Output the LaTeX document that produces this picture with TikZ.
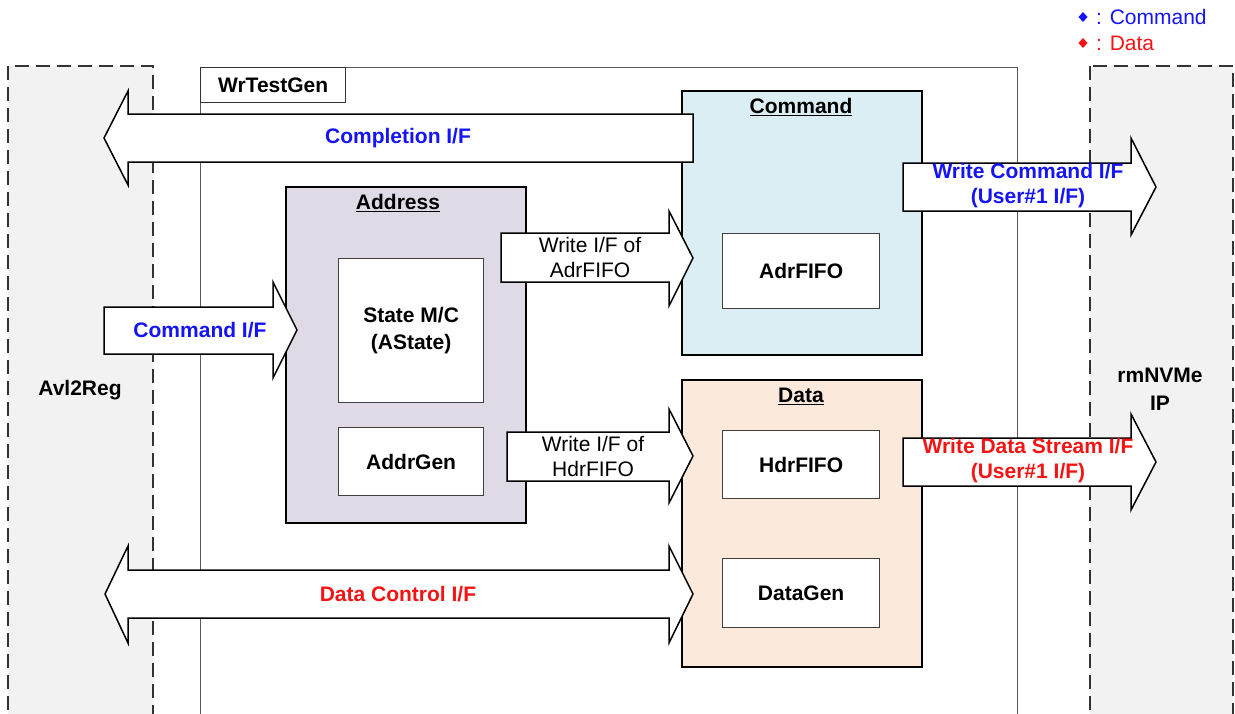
\documentclass[tikz,border=0pt]{standalone}
\usepackage{fontspec}
\setmainfont{Liberation Sans}
\definecolor{extfill}{HTML}{F2F2F2}
\definecolor{cmdfill}{HTML}{DAEEF3}
\definecolor{adrfill}{HTML}{E0DAE7}
\definecolor{datfill}{HTML}{FBE9DC}
\definecolor{txtblue}{HTML}{1414F5}
\definecolor{txtred}{HTML}{F51414}
\begin{document}
\begin{tikzpicture}[x=1pt,y=-1pt,
  font=\fontsize{21}{25}\selectfont,
  extbox/.style={draw=black!80, fill=extfill, line width=2pt, dash pattern=on 14pt off 7pt},
  topbox/.style={draw=black!65, line width=1pt},
  grpbox/.style={draw=black, line width=1.8pt, anchor=north west, inner sep=0pt},
  inbox/.style={draw=black!75, fill=white, line width=1.3pt, anchor=north west, inner sep=0pt, font=\fontsize{21}{27}\selectfont\bfseries, align=center},
  blockarrow/.style={draw=black, fill=white, line width=1.5pt, line join=miter},
  lbl/.style={inner sep=0pt, align=center},
  title/.style={inner sep=0pt, font=\fontsize{21}{25}\selectfont\bfseries}
]
\useasboundingbox (0,0) rectangle (1235,713);
\clip (0,0) rectangle (1235,713);

% external dashed boxes
\draw[extbox] (8,66) rectangle (153,740);
\draw[extbox] (1090,66) rectangle (1233,740);
\node[lbl, font=\fontsize{21}{25}\selectfont\bfseries] (avl) at (80,390) {Avl2Reg};
\node[lbl, font=\fontsize{21}{28}\selectfont\bfseries] (nvme) at (1160,389) {rmNVMe\\IP};

% WrTestGen outer box
\draw[topbox] (200,67) rectangle (1017,740);
\node[draw=black!80, line width=1.3pt, anchor=north west, minimum width=145pt, minimum height=35pt, inner sep=0pt, font=\fontsize{21}{25}\selectfont\bfseries] (wtg) at (200,67) {WrTestGen};

% legend
\fill[txtblue] (1083,12) -- (1087.5,17) -- (1083,22) -- (1078.5,17) -- cycle;
\node[anchor=west, inner sep=0pt, text=txtblue] (legc) at (1096,17) {: Command};
\fill[txtred] (1083,38) -- (1087.5,43) -- (1083,48) -- (1078.5,43) -- cycle;
\node[anchor=west, inner sep=0pt, text=txtred] (legd) at (1096,43) {: Data};

% group boxes
\node[grpbox, fill=cmdfill, minimum width=240pt, minimum height=264pt] (cmd) at (681,90) {};
\node[title] (cmdt) at (801,107) {\underline{Command}};
\node[grpbox, fill=adrfill, minimum width=240pt, minimum height=336pt] (adr) at (285,186) {};
\node[title] (adrt) at (398,203) {\underline{Address}};
\node[grpbox, fill=datfill, minimum width=240pt, minimum height=287pt] (dat) at (681,379) {};
\node[title] (datt) at (801,396) {\underline{Data}};

% inner boxes
\node[inbox, minimum width=157pt, minimum height=75pt] (adrfifo) at (722,233) {AdrFIFO};
\node[inbox, minimum width=145pt, minimum height=144pt] (statemc) at (338,258) {State M/C\\(AState)};
\node[inbox, minimum width=145pt, minimum height=68pt] (addrgen) at (338,427) {AddrGen};
\node[inbox, minimum width=157pt, minimum height=68pt] (hdrfifo) at (722,430) {HdrFIFO};
\node[inbox, minimum width=157pt, minimum height=69pt] (datagen) at (722,558) {DataGen};

% block arrows
\draw[blockarrow] (693,114) -- (128,114) -- (128,91) -- (104,138) -- (128,185) -- (128,162) -- (693,162) -- cycle;
\node[lbl, font=\fontsize{21}{25}\selectfont\bfseries, text=txtblue] (compl) at (398,138) {Completion I/F};

\draw[blockarrow] (104,307) -- (273,307) -- (273,282) -- (297,330) -- (273,378) -- (273,354) -- (104,354) -- cycle;
\node[lbl, font=\fontsize{21}{25}\selectfont\bfseries, text=txtblue] (cmdif) at (200,330) {Command I/F};

\draw[blockarrow] (501,233) -- (669,233) -- (669,211) -- (693,258) -- (669,306) -- (669,282) -- (501,282) -- cycle;
\node[lbl, font=\fontsize{21}{25}\selectfont] (wadr) at (590,257) {Write I/F of\\AdrFIFO};

\draw[blockarrow] (507,432) -- (669,432) -- (669,409) -- (693,456) -- (669,503) -- (669,481) -- (507,481) -- cycle;
\node[lbl, font=\fontsize{21}{25}\selectfont] (whdr) at (593,456) {Write I/F of\\HdrFIFO};

\draw[blockarrow] (903,163) -- (1131,163) -- (1131,138) -- (1156,187) -- (1131,235) -- (1131,211) -- (903,211) -- cycle;
\node[lbl, font=\fontsize{21}{25}\selectfont\bfseries, text=txtblue] (wcmd) at (1028,186) {Write Command I/F\\(User\#1 I/F)};

\draw[blockarrow] (903,438) -- (1131,438) -- (1131,414) -- (1156,462) -- (1131,510) -- (1131,486) -- (903,486) -- cycle;
\node[lbl, font=\fontsize{21}{25}\selectfont\bfseries, text=txtred] (wdat) at (1028,461) {Write Data Stream I/F\\(User\#1 I/F)};

\draw[blockarrow] (105,594) -- (128,546) -- (128,570) -- (669,570) -- (669,546) -- (693,594) -- (669,643) -- (669,618) -- (128,618) -- (128,643) -- cycle;
\node[lbl, font=\fontsize{21}{25}\selectfont\bfseries, text=txtred] (dctl) at (398,594) {Data Control I/F};
\end{tikzpicture}
\end{document}
